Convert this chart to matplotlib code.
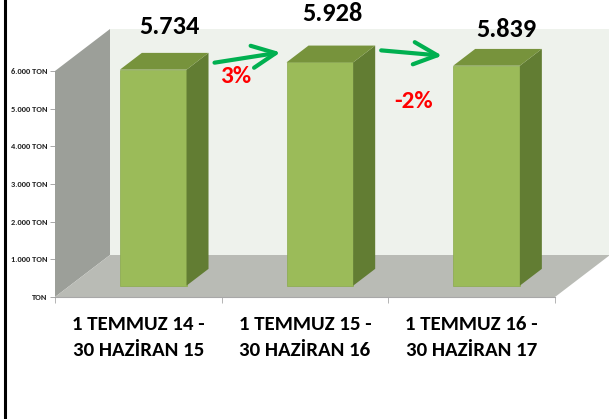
import matplotlib
matplotlib.use("Agg")
import matplotlib.pyplot as plt
from matplotlib.patches import Polygon
from matplotlib.lines import Line2D

categories = ["1 TEMMUZ 14 -\n30 HAZİRAN 15",
              "1 TEMMUZ 15 -\n30 HAZİRAN 16",
              "1 TEMMUZ 16 -\n30 HAZİRAN 17"]
values = [5734, 5928, 5839]
y_ticks = [0, 1000, 2000, 3000, 4000, 5000, 6000]

# layout / style (pixels of the 609x419 picture)
W, H = 609, 419
PX_LEFT, PX_RIGHT, PX_BOT, PX_TOP = 55, 555, 297, 71
YMAX = 6000
DX = 55 / (PX_RIGHT - PX_LEFT) * 3        # depth offset of the box, data x
DY = 42 / (PX_BOT - PX_TOP) * YMAX        # depth offset of the box, data y
BAR_W = 0.40
BAR_F0 = 0.27      # depth where bar front face sits
BAR_D = 0.40       # bar depth (fraction of box depth)
label_off_px = [(5, 26), (2, 32), (9, 19)]
pct_pos_px = [(236, 76), (414, 101)]

FRONT = "#9bbb59"
TOP = "#77933c"
SIDE = "#627d33"
GREEN = "#00b050"
FONT = ["Carlito", "Lato", "DejaVu Sans"]

sx = (PX_RIGHT - PX_LEFT) / 3.0           # px per data x
sy = (PX_BOT - PX_TOP) / YMAX             # px per data y


def px2data(px, py):
    return (px - PX_LEFT) / sx, (PX_BOT - py) / sy


def fmt_ton(v):
    if v == 0:
        return "TON"
    return f"{int(v):,}".replace(",", ".") + " TON"


def main():
    fig = plt.figure(figsize=(W / 100, H / 100), dpi=100)
    ax = fig.add_axes([PX_LEFT / W, (H - PX_BOT) / H,
                       (PX_RIGHT - PX_LEFT) / W, (PX_BOT - PX_TOP) / H])
    ax.set_xlim(0, 3)
    ax.set_ylim(0, YMAX)
    ax.patch.set_visible(False)

    # walls and floor
    back = Polygon([(DX, DY), (3 + DX, DY), (3 + DX, YMAX + DY), (DX, YMAX + DY)],
                   closed=True, facecolor="#eef2ec", edgecolor="none", clip_on=False, zorder=0)
    left = Polygon([(0, 0), (DX, DY), (DX, YMAX + DY), (0, YMAX)],
                   closed=True, facecolor="#9c9f99", edgecolor="none", clip_on=False, zorder=0)
    floor = Polygon([(0, 0), (3, 0), (3 + DX, DY), (DX, DY)],
                    closed=True, facecolor="#b9bbb5", edgecolor="none", clip_on=False, zorder=0)
    for p in (back, left, floor):
        ax.add_patch(p)

    # bars
    tops = []
    for i, v in enumerate(values):
        c = i + 0.5
        xl = c - BAR_W / 2 + BAR_F0 * DX
        xr = xl + BAR_W
        yb = BAR_F0 * DY
        yt = yb + v
        ddx, ddy = BAR_D * DX, BAR_D * DY
        ax.add_patch(Polygon([(xl, yb), (xr, yb), (xr, yt), (xl, yt)], closed=True,
                             facecolor=FRONT, edgecolor="#8aaa4c", lw=0.5, clip_on=False, zorder=3))
        ax.add_patch(Polygon([(xr, yb), (xr + ddx, yb + ddy), (xr + ddx, yt + ddy), (xr, yt)],
                             closed=True, facecolor=SIDE, edgecolor="none", clip_on=False, zorder=3))
        ax.add_patch(Polygon([(xl, yt), (xr, yt), (xr + ddx, yt + ddy), (xl + ddx, yt + ddy)],
                             closed=True, facecolor=TOP, edgecolor="none", clip_on=False, zorder=3))
        tops.append((xl, xr, xr + ddx, yt, yt + ddy))

        ox, oy = label_off_px[i]
        ax.text(c + BAR_F0 * DX + ddx / 2 + ox / sx, yt + ddy + oy / sy,
                f"{v:,}".replace(",", "."), ha="center", va="center",
                fontsize=19, fontweight="bold", family=FONT, color="black", zorder=5)

    # growth arrows and percentages
    for i in range(len(values) - 1):
        _, _, x_side, yt0, _ = tops[i]
        xl1, _, _, yt1, _ = tops[i + 1]
        start = (x_side + 6 / sx, yt0 + 7 / sy + (i * 5) / sy)
        end = (xl1 - (6 + i * 5) / sx, yt1 + 10 / sy)
        ax.annotate("", xy=end, xytext=start, annotation_clip=False,
                    arrowprops=dict(arrowstyle="->,head_length=0.85,head_width=0.4",
                                    lw=3, color=GREEN, mutation_scale=20,
                                    shrinkA=0, shrinkB=0), zorder=6)
        pct = round((values[i + 1] - values[i]) / values[i] * 100)
        px, py = px2data(*pct_pos_px[i])
        ax.text(px, py, f"{pct}%", ha="center", va="center", fontsize=18,
                fontweight="bold", family=FONT, color="red", zorder=6)

    # axes
    for s in ("top", "right", "left"):
        ax.spines[s].set_visible(False)
    ax.spines["bottom"].set_color("#a8a8a8")
    ax.spines["bottom"].set_linewidth(0.8)
    ax.spines["bottom"].set_zorder(1)

    ax.set_yticks(y_ticks)
    ax.set_yticklabels([fmt_ton(v) for v in y_ticks], fontsize=6,
                       fontweight="bold", family=FONT, color="#222222")
    ax.tick_params(axis="y", length=3.5, width=0.6, color="#999999", pad=2)

    ax.set_xticks([0.5, 1.5, 2.5])
    ax.set_xticklabels(categories, fontsize=15, fontweight="bold", family=FONT,
                       linespacing=1.6)
    ax.set_xticks([0, 1, 2, 3], minor=True)
    ax.tick_params(axis="x", which="major", length=0, pad=14)
    ax.tick_params(axis="x", which="minor", length=4, width=0.6, color="#a8a8a8")

    # frame line on the left
    fig.add_artist(Line2D([4.5 / W, 4.5 / W], [0, 1], color="black", lw=2.2,
                          transform=fig.transFigure))

    fig.savefig("out.png", dpi=100)
    plt.close(fig)


if __name__ == "__main__":
    main()
